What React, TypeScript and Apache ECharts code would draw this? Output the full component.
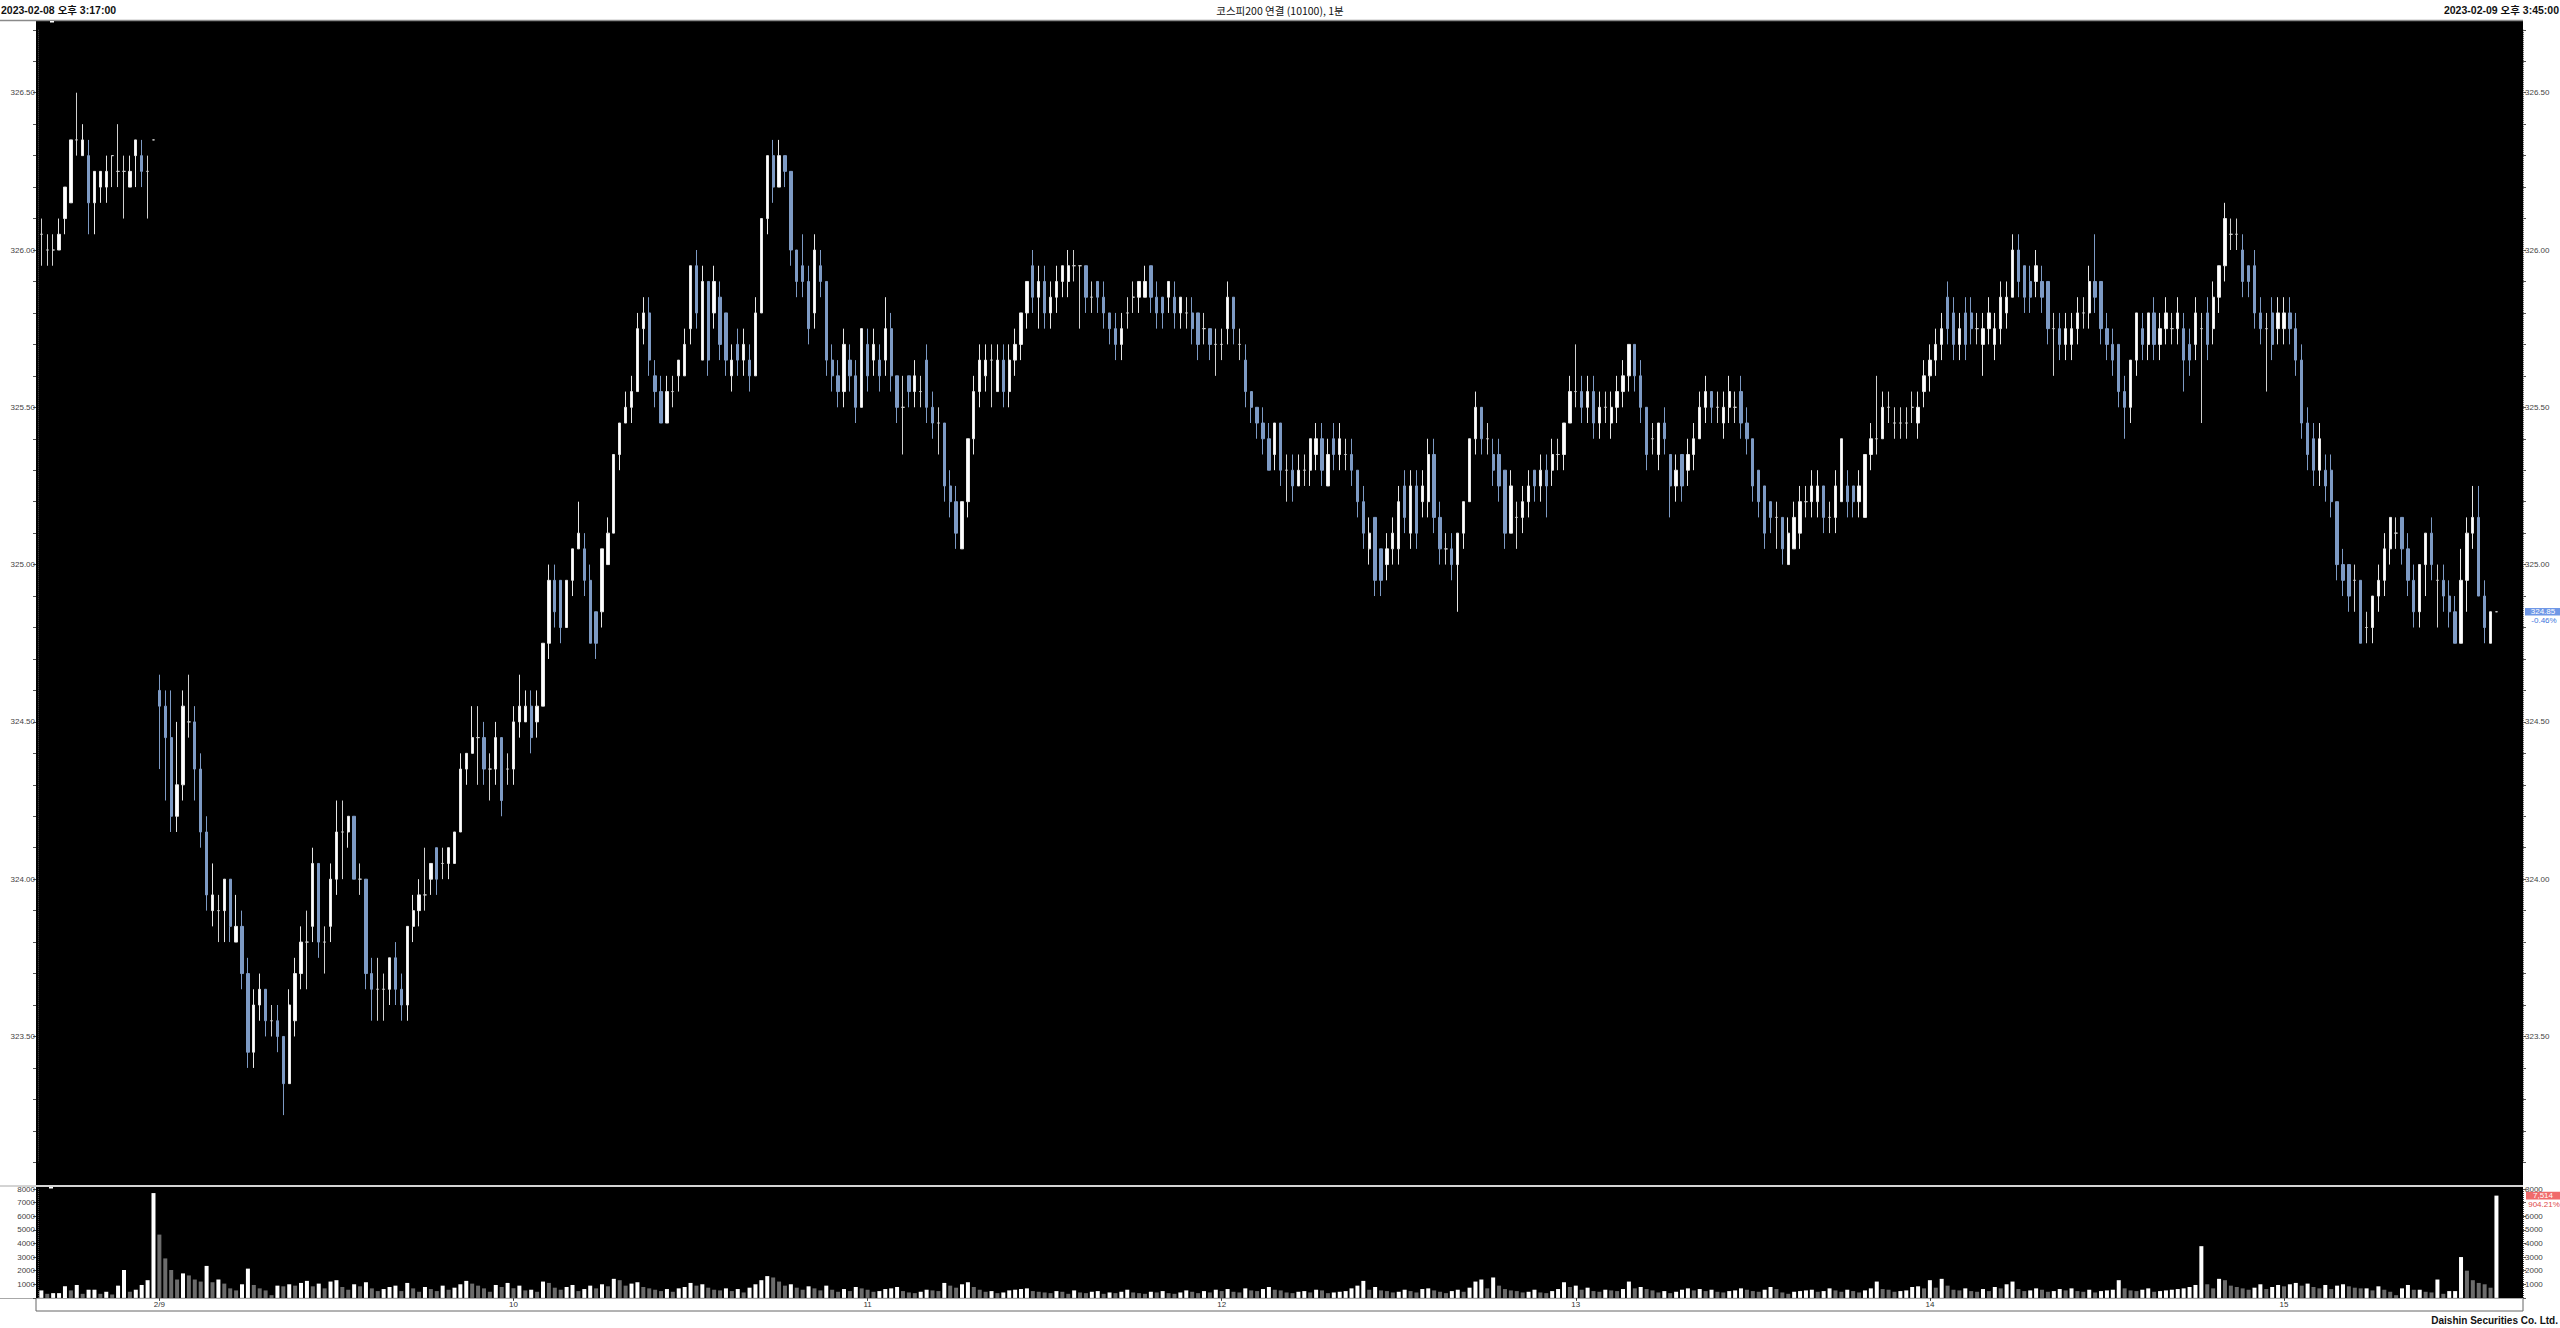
import React, { useEffect, useRef } from "react";
import * as echarts from "echarts";

// Each candle: [open, close, low, high]
const candlesFeb8Close = [
  [326.05,326.05,325.95,326.10],[326.00,326.00,325.95,326.05],[326.00,326.00,325.95,326.05],[326.00,326.05,326.00,326.10],
  [326.10,326.20,326.05,326.20],[326.15,326.35,326.15,326.35],[326.35,326.35,326.30,326.50],[326.30,326.35,326.30,326.40],
  [326.30,326.15,326.05,326.35],[326.15,326.25,326.05,326.25],[326.20,326.25,326.15,326.25],[326.20,326.25,326.15,326.30],
  [326.30,326.30,326.20,326.30],[326.25,326.25,326.20,326.40],[326.25,326.25,326.10,326.30],[326.20,326.25,326.20,326.30],
  [326.30,326.35,326.20,326.35],[326.30,326.25,326.20,326.35],[326.25,326.25,326.10,326.30],[326.35,326.35,326.35,326.35]
];
const candles09 = [
  [324.60,324.55,324.35,324.65],[324.55,324.45,324.25,324.60],[324.45,324.20,324.15,324.60],[324.20,324.30,324.15,324.50],
  [324.30,324.55,324.25,324.60],[324.50,324.50,324.45,324.65],[324.50,324.35,324.25,324.55],[324.35,324.15,324.10,324.40],
  [324.15,323.95,323.90,324.20],[323.90,323.95,323.85,324.05],[323.90,323.90,323.80,323.95],[323.90,324.00,323.80,324.00],
  [324.00,323.85,323.80,324.00],[323.80,323.85,323.80,323.95],[323.85,323.70,323.65,323.90],[323.70,323.45,323.40,323.75],
  [323.45,323.60,323.40,323.65],[323.60,323.65,323.55,323.70],[323.65,323.55,323.50,323.65],[323.55,323.55,323.50,323.60],
  [323.55,323.50,323.45,323.60],[323.50,323.35,323.25,323.50],[323.35,323.60,323.35,323.65],[323.55,323.70,323.50,323.75],
  [323.70,323.80,323.65,323.85],[323.80,323.80,323.65,323.90],[323.85,324.05,323.80,324.10],[324.05,323.80,323.75,324.05],
  [323.80,323.80,323.70,323.85],[323.85,324.00,323.80,324.05],[324.00,324.15,323.95,324.25],[324.15,324.15,324.00,324.25],
  [324.15,324.20,324.10,324.20],[324.20,324.00,324.00,324.20],[324.00,324.00,323.95,324.05],[324.00,323.70,323.65,324.00],
  [323.70,323.65,323.55,323.75],[323.65,323.65,323.55,323.75],[323.65,323.65,323.55,323.70],[323.65,323.75,323.60,323.75],
  [323.75,323.65,323.60,323.80],[323.65,323.60,323.55,323.70],[323.60,323.85,323.55,323.85],[323.85,323.90,323.80,323.95],
  [323.90,323.95,323.85,324.00],[323.95,323.95,323.90,324.10],[324.00,324.05,323.95,324.05],[324.10,324.00,323.95,324.10],
  [324.05,324.05,324.00,324.10],[324.05,324.10,324.00,324.10],[324.05,324.15,324.05,324.15],[324.15,324.35,324.15,324.40],
  [324.35,324.40,324.30,324.40],[324.40,324.45,324.40,324.55],[324.45,324.45,324.30,324.55],[324.45,324.35,324.30,324.50],
  [324.35,324.35,324.25,324.40],[324.35,324.45,324.30,324.50],[324.45,324.25,324.20,324.45],[324.35,324.35,324.30,324.40]
];
const candles10 = [
  [324.35,324.50,324.30,324.55],[324.50,324.55,324.45,324.65],[324.50,324.55,324.50,324.60],[324.55,324.45,324.40,324.60],
  [324.50,324.55,324.45,324.60],[324.55,324.75,324.55,324.75],[324.75,324.95,324.70,325.00],[324.95,324.85,324.80,325.00],
  [324.95,324.80,324.75,324.95],[324.80,324.95,324.80,324.95],[324.95,325.05,324.90,325.05],[325.05,325.10,325.05,325.20],
  [325.05,324.95,324.90,325.10],[324.95,324.75,324.75,325.00],[324.85,324.75,324.70,324.85],[324.85,325.05,324.80,325.05],
  [325.00,325.10,325.00,325.15],[325.10,325.35,325.10,325.35],[325.35,325.45,325.30,325.45],[325.45,325.50,325.45,325.55],
  [325.50,325.55,325.45,325.60],[325.55,325.75,325.55,325.80],[325.75,325.80,325.70,325.85],[325.80,325.65,325.60,325.85],
  [325.60,325.55,325.50,325.65],[325.55,325.45,325.45,325.60],[325.45,325.55,325.45,325.60],[325.55,325.55,325.50,325.60],
  [325.60,325.65,325.55,325.65],[325.60,325.70,325.60,325.75],[325.75,325.95,325.70,325.95],[325.95,325.80,325.75,326.00],
  [325.65,325.90,325.65,325.95],[325.90,325.65,325.60,325.90],[325.80,325.90,325.75,325.95],[325.85,325.70,325.65,325.90],
  [325.80,325.65,325.60,325.80],[325.60,325.65,325.55,325.70],[325.70,325.65,325.60,325.75],[325.65,325.70,325.60,325.75],
  [325.65,325.60,325.55,325.70],[325.60,325.80,325.60,325.85],[325.80,326.10,325.80,326.10],[326.10,326.30,326.05,326.30],
  [326.30,326.20,326.15,326.35],[326.20,326.30,326.20,326.35],[326.30,326.25,326.20,326.30],[326.25,326.00,325.95,326.25],
  [326.00,325.90,325.85,326.00],[325.95,325.90,325.85,326.05],[325.90,325.75,325.70,325.95],[325.80,326.00,325.75,326.05],
  [325.95,325.90,325.85,326.00],[325.90,325.65,325.60,325.90],[325.65,325.60,325.55,325.70],[325.60,325.55,325.50,325.65],
  [325.55,325.70,325.50,325.75],[325.65,325.60,325.55,325.70],[325.60,325.50,325.45,325.65],[325.50,325.75,325.50,325.75]
];
const candles11 = [
  [325.70,325.60,325.55,325.75],[325.65,325.70,325.60,325.75],[325.65,325.60,325.55,325.70],[325.65,325.75,325.60,325.85],
  [325.75,325.60,325.55,325.80],[325.60,325.50,325.45,325.60],[325.50,325.50,325.35,325.60],[325.60,325.55,325.50,325.60],
  [325.55,325.60,325.50,325.65],[325.55,325.55,325.50,325.60],[325.65,325.50,325.45,325.70],[325.50,325.45,325.40,325.55],
  [325.45,325.45,325.35,325.50],[325.45,325.25,325.20,325.45],[325.25,325.20,325.15,325.30],[325.20,325.10,325.05,325.25],
  [325.05,325.20,325.05,325.20],[325.20,325.40,325.15,325.40],[325.40,325.55,325.35,325.60],[325.55,325.65,325.50,325.70],
  [325.60,325.65,325.55,325.70],[325.65,325.65,325.50,325.70],[325.55,325.65,325.55,325.70],[325.65,325.55,325.50,325.70],
  [325.55,325.65,325.50,325.70],[325.65,325.70,325.60,325.75],[325.70,325.80,325.65,325.80],[325.80,325.90,325.75,325.90],
  [325.95,325.85,325.80,326.00],[325.85,325.90,325.75,325.95],[325.90,325.80,325.75,325.95],[325.80,325.85,325.75,325.90],
  [325.85,325.90,325.80,325.95],[325.90,325.95,325.85,325.95],[325.90,325.95,325.85,326.00],[325.95,325.95,325.90,326.00],
  [325.95,325.95,325.75,325.95],[325.95,325.85,325.80,325.95],[325.85,325.85,325.80,325.90],[325.90,325.85,325.80,325.90],
  [325.85,325.80,325.75,325.90],[325.80,325.75,325.70,325.80],[325.75,325.70,325.65,325.80],[325.70,325.75,325.65,325.80],
  [325.80,325.80,325.75,325.85],[325.85,325.85,325.80,325.90],[325.85,325.90,325.80,325.90],[325.85,325.90,325.85,325.95],
  [325.95,325.85,325.80,325.95],[325.85,325.80,325.75,325.90],[325.85,325.80,325.75,325.85],[325.85,325.90,325.80,325.90],
  [325.85,325.80,325.75,325.90],[325.80,325.85,325.75,325.85],[325.80,325.80,325.75,325.85],[325.80,325.75,325.70,325.85],
  [325.80,325.70,325.65,325.80],[325.75,325.75,325.70,325.80],[325.75,325.70,325.65,325.75],[325.70,325.70,325.60,325.75]
];
const candles12 = [
  [325.70,325.70,325.65,325.75],[325.75,325.85,325.70,325.90],[325.85,325.75,325.70,325.85],[325.70,325.70,325.65,325.75],
  [325.65,325.55,325.50,325.70],[325.55,325.50,325.45,325.55],[325.50,325.45,325.40,325.50],[325.45,325.40,325.35,325.50],
  [325.40,325.30,325.30,325.45],[325.35,325.45,325.30,325.45],[325.45,325.30,325.25,325.45],[325.30,325.30,325.20,325.35],
  [325.30,325.25,325.20,325.35],[325.25,325.30,325.25,325.35],[325.30,325.30,325.25,325.35],[325.30,325.40,325.25,325.40],
  [325.35,325.40,325.30,325.45],[325.40,325.30,325.25,325.45],[325.25,325.35,325.25,325.40],[325.40,325.35,325.30,325.45],
  [325.35,325.40,325.30,325.45],[325.35,325.35,325.30,325.40],[325.35,325.30,325.25,325.40],[325.30,325.20,325.15,325.30],
  [325.20,325.10,325.05,325.25],[325.05,325.10,325.00,325.15],[325.15,324.95,324.90,325.15],[325.05,324.95,324.90,325.05],
  [325.00,325.05,324.95,325.10],[325.05,325.10,325.00,325.15],[325.05,325.20,325.00,325.25],[325.25,325.15,325.10,325.30],
  [325.10,325.25,325.05,325.30],[325.25,325.10,325.05,325.30],[325.20,325.25,325.15,325.30],[325.20,325.35,325.15,325.40],
  [325.35,325.15,325.10,325.40],[325.15,325.05,325.00,325.20],[325.05,325.05,325.00,325.10],[325.05,325.00,324.95,325.10],
  [325.00,325.10,324.85,325.10],[325.10,325.20,325.05,325.20],[325.20,325.40,325.20,325.40],[325.40,325.50,325.35,325.55],
  [325.50,325.40,325.35,325.50],[325.40,325.40,325.35,325.45],[325.35,325.30,325.25,325.40],[325.35,325.25,325.20,325.40],
  [325.30,325.10,325.05,325.30],[325.10,325.25,325.10,325.30],[325.15,325.15,325.05,325.20],[325.15,325.20,325.10,325.25],
  [325.20,325.25,325.15,325.30],[325.30,325.25,325.20,325.30],[325.25,325.30,325.20,325.35],[325.30,325.25,325.15,325.35],
  [325.30,325.35,325.25,325.40],[325.35,325.35,325.30,325.40],[325.35,325.45,325.30,325.45],[325.45,325.55,325.45,325.60]
];
const candles13 = [
  [325.55,325.55,325.50,325.70],[325.55,325.50,325.45,325.60],[325.50,325.55,325.45,325.60],[325.55,325.45,325.40,325.60],
  [325.45,325.50,325.40,325.55],[325.50,325.50,325.45,325.55],[325.45,325.50,325.40,325.55],[325.50,325.55,325.45,325.60],
  [325.55,325.60,325.50,325.65],[325.60,325.70,325.55,325.70],[325.70,325.60,325.55,325.70],[325.60,325.50,325.45,325.65],
  [325.50,325.35,325.30,325.50],[325.40,325.40,325.35,325.45],[325.35,325.45,325.30,325.45],[325.45,325.40,325.35,325.50],
  [325.35,325.25,325.15,325.35],[325.25,325.30,325.20,325.35],[325.35,325.25,325.20,325.35],[325.30,325.35,325.25,325.40],
  [325.35,325.40,325.30,325.45],[325.40,325.50,325.40,325.55],[325.50,325.55,325.45,325.60],[325.55,325.50,325.45,325.55],
  [325.50,325.50,325.45,325.55],[325.45,325.50,325.40,325.55],[325.50,325.55,325.45,325.60],[325.50,325.50,325.45,325.55],
  [325.55,325.45,325.40,325.60],[325.45,325.40,325.35,325.50],[325.40,325.25,325.20,325.40],[325.30,325.20,325.15,325.30],
  [325.25,325.10,325.05,325.25],[325.20,325.15,325.10,325.20],[325.15,325.15,325.05,325.20],[325.15,325.05,325.00,325.15],
  [325.00,325.10,325.00,325.15],[325.05,325.15,325.05,325.20],[325.10,325.20,325.05,325.25],[325.20,325.20,325.15,325.25],
  [325.20,325.25,325.15,325.30],[325.20,325.25,325.15,325.30],[325.25,325.15,325.10,325.25],[325.15,325.15,325.10,325.20],
  [325.15,325.25,325.10,325.30],[325.20,325.40,325.20,325.40],[325.25,325.20,325.15,325.30],[325.25,325.20,325.15,325.25],
  [325.20,325.25,325.15,325.30],[325.15,325.35,325.15,325.35],[325.35,325.40,325.30,325.45],[325.40,325.40,325.35,325.60],
  [325.40,325.50,325.40,325.55],[325.50,325.50,325.45,325.55],[325.45,325.45,325.40,325.50],[325.45,325.45,325.40,325.50],
  [325.45,325.45,325.40,325.50],[325.50,325.50,325.45,325.55],[325.45,325.50,325.40,325.55],[325.55,325.60,325.50,325.65]
];
const candles14 = [
  [325.60,325.65,325.55,325.70],[325.65,325.70,325.60,325.75],[325.70,325.75,325.65,325.80],[325.85,325.75,325.70,325.90],
  [325.80,325.70,325.65,325.85],[325.70,325.75,325.65,325.80],[325.80,325.70,325.65,325.85],[325.80,325.75,325.70,325.85],
  [325.75,325.75,325.70,325.80],[325.70,325.75,325.60,325.80],[325.75,325.80,325.70,325.85],[325.70,325.75,325.65,325.80],
  [325.75,325.85,325.70,325.90],[325.80,325.85,325.75,325.90],[325.85,326.00,325.85,326.05],[326.00,325.90,325.85,326.05],
  [325.95,325.85,325.80,325.95],[325.90,325.85,325.80,325.95],[325.90,325.95,325.85,326.00],[325.90,325.85,325.80,325.95],
  [325.90,325.75,325.70,325.90],[325.75,325.75,325.60,325.80],[325.75,325.70,325.65,325.80],[325.70,325.75,325.65,325.80],
  [325.70,325.75,325.65,325.80],[325.75,325.80,325.70,325.85],[325.80,325.80,325.75,325.85],[325.80,325.90,325.75,325.95],
  [325.90,325.85,325.80,326.05],[325.90,325.75,325.70,325.90],[325.75,325.70,325.65,325.80],[325.70,325.65,325.60,325.75],
  [325.70,325.55,325.50,325.70],[325.55,325.50,325.40,325.60],[325.50,325.65,325.45,325.65],[325.65,325.80,325.60,325.80],
  [325.75,325.70,325.65,325.80],[325.70,325.80,325.65,325.80],[325.80,325.70,325.65,325.85],[325.70,325.75,325.65,325.80],
  [325.75,325.80,325.70,325.85],[325.75,325.75,325.70,325.80],[325.75,325.80,325.70,325.85],[325.75,325.65,325.55,325.80],
  [325.70,325.65,325.60,325.75],[325.70,325.80,325.65,325.85],[325.75,325.75,325.45,325.80],[325.80,325.70,325.65,325.85],
  [325.75,325.85,325.70,325.90],[325.85,325.95,325.80,325.95],[325.95,326.10,325.90,326.15],[326.05,326.05,326.00,326.10],
  [326.05,326.05,326.00,326.10],[326.00,325.90,325.85,326.05],[325.95,325.90,325.85,325.95],[325.95,325.80,325.75,326.00],
  [325.80,325.75,325.70,325.85],[325.75,325.75,325.55,325.80],[325.80,325.70,325.65,325.85],[325.75,325.80,325.70,325.85]
];
const candles15 = [
  [325.75,325.80,325.70,325.85],[325.80,325.75,325.70,325.85],[325.75,325.65,325.60,325.80],[325.65,325.45,325.40,325.70],
  [325.45,325.35,325.30,325.50],[325.40,325.30,325.25,325.45],[325.30,325.40,325.25,325.45],[325.30,325.25,325.20,325.35],
  [325.30,325.20,325.15,325.35],[325.20,325.00,324.95,325.20],[325.00,324.95,324.90,325.05],[325.00,324.90,324.85,325.00],
  [324.95,324.95,324.85,325.00],[324.95,324.75,324.75,324.95],[324.80,324.80,324.75,324.85],[324.80,324.90,324.75,324.90],
  [324.90,324.95,324.85,325.00],[324.95,325.05,324.90,325.10],[325.05,325.15,325.00,325.15],[325.10,325.10,325.05,325.15],
  [325.15,325.05,325.00,325.15],[325.05,324.95,324.90,325.10],[324.95,324.85,324.80,325.00],[324.85,325.00,324.80,325.00],
  [325.00,325.10,324.90,325.10],[325.10,325.00,324.95,325.15],[324.95,324.95,324.80,325.00],[324.95,324.90,324.85,325.00],
  [324.90,324.85,324.80,324.95],[324.85,324.75,324.75,324.90],[324.75,324.95,324.75,325.05],[324.95,325.10,324.85,325.15],
  [325.10,325.15,325.05,325.25],[325.15,324.90,324.90,325.25],[324.90,324.80,324.75,324.95],[324.75,324.85,324.75,324.85],
  [324.85,324.85,324.85,324.85]
];

const volumeFeb8Close = [550,300,350,350,850,550,950,300,600,600,300,450,250,900,2050,450,600,950,1300,7700];
const volume09 = [4650,2900,2050,1350,1800,1650,1350,1200,2350,1150,1350,1050,700,550,1000,2150,950,700,550,200,900,850,1000,900,1100,
  1250,850,1050,700,1200,1300,800,600,1000,850,1150,700,500,650,800,900,500,1100,700,450,800,650,500,900,600,750,1000,1250,1050,900,700,450,950,800,1100];
const volume10 = [700,900,550,600,450,1200,1100,750,600,800,950,500,650,900,700,1000,850,1400,1300,900,
  1050,1150,800,700,600,500,650,450,700,800,1100,900,1000,750,600,550,700,500,650,400,
  750,1000,1300,1600,1500,1200,900,1000,750,600,850,700,550,900,600,450,650,500,800,700];
const volume11 = [600,450,500,650,700,800,500,400,350,450,600,550,500,1100,900,750,1000,1150,800,600,
  450,500,350,400,550,600,650,700,500,450,400,350,500,450,300,550,400,350,450,500,
  300,400,350,450,600,400,350,300,450,400,500,350,300,400,550,450,350,500,400,600];
const volume12 = [500,650,450,400,700,550,500,650,800,600,550,400,350,450,500,400,600,550,350,400,
  450,500,700,900,1250,600,800,550,500,400,450,600,500,400,650,700,550,450,350,500,
  600,450,750,1200,1350,700,1500,900,650,550,500,400,450,600,400,350,500,650,1150,800];
const volume13 = [900,600,750,500,450,600,550,500,650,1200,700,800,650,550,400,500,350,450,600,700,
  550,650,500,600,450,400,500,550,700,600,500,450,600,800,650,400,300,450,500,550,
  600,450,500,700,550,450,600,500,400,550,700,1200,650,600,450,500,550,800,850,700];
const volume14 = [1300,750,1400,900,600,550,700,500,450,650,500,800,700,1000,1200,650,500,550,700,600,
  450,500,650,550,700,500,450,600,400,500,550,600,1300,700,550,500,600,700,450,500,
  550,600,650,700,800,950,3800,1000,700,1400,1300,900,800,700,600,750,1000,650,800,950];
const volume15 = [850,1000,1100,900,1050,800,700,950,650,900,1000,
  850,750,700,700,550,850,600,450,200,700,950,600,600,450,400,1350,300,500,500,3000,2000,1300,1100,1000,748,
  7514];

const headerLeft = "2023-02-08 오후 3:17:00";
const headerCenter = "코스피200 연결 (10100), 1분";
const headerRight = "2023-02-09 오후 3:45:00";
const footerText = "Daishin Securities Co. Ltd.";
const previousClose = 326.35;
const volumeChangeText = "904.21%";
const hourLabelText: Record<string, string> = {
  "02/09 09:00": "2/9", "02/09 10:00": "10", "02/09 11:00": "11", "02/09 12:00": "12",
  "02/09 13:00": "13", "02/09 14:00": "14", "02/09 15:00": "15"
};

const candles = [
  ...candlesFeb8Close, ...candles09, ...candles10, ...candles11, ...candles12, ...candles13, ...candles14, ...candles15
];
const volumes = [
  ...volumeFeb8Close, ...volume09, ...volume10, ...volume11, ...volume12, ...volume13, ...volume14, ...volume15
];

const pad = (n: number) => String(n).padStart(2, "0");
const categories: string[] = [];
for (let m = 17; m <= 35; m++) categories.push(`02/08 15:${pad(m)}`);
categories.push("02/08 15:45");
for (let h = 9; h <= 15; h++) {
  for (let m = 0; m < 60; m++) {
    if (h === 15 && m > 35) break;
    categories.push(`02/09 ${pad(h)}:${pad(m)}`);
  }
}
categories.push("02/09 15:45");
for (let k = 1; k <= 4; k++) categories.push(`pad${k}`);

const sessionStart = categories.indexOf("02/09 09:00");

const FONT_AXIS = "'Liberation Sans', Arial, sans-serif";
const FONT_HEAD = "'Liberation Sans Narrow', 'Liberation Sans', 'Noto Sans CJK KR', sans-serif";
const FONT_TITLE = "'Noto Sans CJK KR', 'Liberation Sans', sans-serif";

export default function App() {
  const ref = useRef<HTMLDivElement>(null);
  useEffect(() => {
    if (!ref.current) return;
    const chart = echarts.init(ref.current, null, { renderer: "svg" });

    const priceLabel = (v: number) => {
      const r = Math.round(v * 100);
      return r % 50 === 0 ? (r / 100).toFixed(2) : "";
    };
    const axisLabelStyle = { fontSize: 8, color: "#444", fontFamily: FONT_AXIS };
    const tickStyle = { show: true, length: 3, lineStyle: { color: "#555", width: 1 } };

    const gridLeft = 38.4;
    const gridWidth = 2484.6;

    const option: any = {
      animation: false,
      backgroundColor: "#ffffff",
      grid: [
        { left: gridLeft, top: 29.8, width: gridWidth, height: 1132.5 },
        { left: gridLeft, top: 1189, width: gridWidth, height: 108.9 }
      ],
      xAxis: [
        {
          type: "category", gridIndex: 0, data: categories, boundaryGap: true,
          axisLine: { show: false }, axisTick: { show: false }, axisLabel: { show: false },
          splitLine: { show: true, interval: (i: number) => i === sessionStart, lineStyle: { color: "#4a4a4a", type: "dotted", width: 1 } }
        },
        {
          type: "category", gridIndex: 1, data: categories, boundaryGap: true,
          axisLine: { show: true, lineStyle: { color: "#a8a8a8", width: 1 } },
          axisTick: { show: true, alignWithLabel: true, length: 3, interval: (i: number, v: string) => !!hourLabelText[v], lineStyle: { color: "#444" } },
          axisLabel: {
            show: true, interval: (i: number, v: string) => !!hourLabelText[v],
            formatter: (v: string) => hourLabelText[v] || "", fontSize: 8, color: "#333", fontFamily: FONT_AXIS, margin: 3
          },
          splitLine: { show: true, interval: (i: number) => i === sessionStart, lineStyle: { color: "#4a4a4a", type: "dotted", width: 1 } }
        }
      ],
      yAxis: [
        {
          type: "value", gridIndex: 0, position: "left", min: 323.1, max: 326.7, interval: 0.1, offset: 2.4,
          axisLine: { show: false }, axisTick: tickStyle, splitLine: { show: false },
          axisLabel: { ...axisLabelStyle, margin: 1, formatter: priceLabel }
        },
        {
          type: "value", gridIndex: 0, position: "right", min: 323.1, max: 326.7, interval: 0.1,
          axisLine: { show: false }, axisTick: tickStyle, splitLine: { show: false },
          axisLabel: { ...axisLabelStyle, margin: 2, formatter: priceLabel }
        },
        {
          type: "value", gridIndex: 1, position: "left", min: 0, max: 8000, interval: 1000, offset: 2.4,
          axisLine: { show: false }, axisTick: tickStyle, splitLine: { show: false },
          axisLabel: { ...axisLabelStyle, margin: 1, formatter: (v: number) => (v === 0 ? "" : String(v)) }
        },
        {
          type: "value", gridIndex: 1, position: "right", min: 0, max: 8000, interval: 1000,
          axisLine: { show: false }, axisTick: tickStyle, splitLine: { show: false },
          axisLabel: { ...axisLabelStyle, margin: 2, formatter: (v: number) => (v === 0 || v === 7000 ? "" : String(v)) }
        }
      ],
      series: [
        {
          type: "candlestick", xAxisIndex: 0, yAxisIndex: 0, data: candles, barWidth: 2.8,
          itemStyle: {
            color: "#ffffff", color0: "#7d9ac4", borderColor: "#e6e6e6", borderColor0: "#7d9ac4",
            borderColorDoji: "#cfcfcf", borderWidth: 1
          }
        },
        {
          type: "bar", xAxisIndex: 1, yAxisIndex: 2, barWidth: 4,
          data: volumes.map((v, i) => ({
            value: v,
            itemStyle: { color: i === 0 || v >= volumes[i - 1] ? "#ffffff" : "#6c6c6c" }
          }))
        }
      ]
    };
    chart.setOption(option);

    const last = candles.length - 1;
    const lastClose = candles[last][1];
    const lastVolume = volumes[last];
    const yPrice = chart.convertToPixel({ yAxisIndex: 1 }, lastClose) as number;
    const yVol = chart.convertToPixel({ yAxisIndex: 3 }, lastVolume) as number;
    const pct = ((lastClose - previousClose) / previousClose) * 100;

    const line = (x1: number, y1: number, x2: number, y2: number, color: string, w = 1) => ({
      type: "line", silent: true, shape: { x1, y1, x2, y2 }, style: { stroke: color, lineWidth: w }
    });
    const text = (x: number, y: number, t: string, opts: any) => ({
      type: "text", silent: true, x, y, z: 50,
      style: { text: t, align: "left", verticalAlign: "middle", fontSize: 10, fontFamily: FONT_HEAD, fill: "#111", ...opts }
    });

    chart.setOption({
      graphic: [
        { type: "rect", id: "bgPrice", z: -100, silent: true, shape: { x: 36, y: 21, width: 2487, height: 1164 }, style: { fill: "#000000" } },
        { type: "rect", id: "bgVol", z: -100, silent: true, shape: { x: 36, y: 1187, width: 2487, height: 111 }, style: { fill: "#000000" } },
        { ...line(0, 20.5, 2523, 20.5, "#8a8a8a", 1.5), id: "lTop" },
        { ...line(0, 1186, 2523, 1186, "#a8a8a8", 1), id: "lMid" },
        { ...line(0, 1298.5, 2523, 1298.5, "#a8a8a8", 1), id: "lBot" },
        { ...line(36, 1311, 2523, 1311, "#666666", 1), id: "lAx" },
        { ...line(36, 1298, 36, 1311, "#666666", 1), id: "lAxL" },
        { ...line(2523, 1298, 2523, 1311, "#666666", 1), id: "lAxR" },
        { type: "rect", id: "mk1", silent: true, shape: { x: 50, y: 21, width: 4, height: 1.5 }, style: { fill: "#ffffff" } },
        { type: "rect", id: "mk2", silent: true, shape: { x: 49, y: 1187, width: 4, height: 1.5 }, style: { fill: "#ffffff" } },
        { ...text(1, 10, headerLeft, { fontWeight: "bold", fontSize: 10.5 }), id: "hL" },
        { ...text(1280, 10, headerCenter, { align: "center", fontFamily: FONT_TITLE, fontSize: 10.5 }), id: "hC" },
        { ...text(2559, 10, headerRight, { align: "right", fontWeight: "bold", fontSize: 10.5 }), id: "hR" },
        { ...text(2558, 1320, footerText, { align: "right", fontWeight: "bold", fontSize: 10 }), id: "ft" },
        { type: "rect", id: "pBox", z: 40, silent: true, shape: { x: 2525, y: yPrice - 3.8, width: 35, height: 7.6 }, style: { fill: "#6f97e6" } },
        { ...text(2543, yPrice, lastClose.toFixed(2), { align: "center", fill: "#ffffff", fontSize: 8, fontFamily: FONT_AXIS }), id: "pTxt" },
        { ...text(2544, yPrice + 9, `${pct.toFixed(2)}%`, { align: "center", fill: "#3d76dc", fontSize: 8, fontFamily: FONT_AXIS }), id: "pPct" },
        { type: "rect", id: "vBox", z: 40, silent: true, shape: { x: 2526, y: yVol - 3.8, width: 34, height: 7.6 }, style: { fill: "#f06b6b" } },
        { ...text(2543, yVol, lastVolume.toLocaleString("en-US"), { align: "center", fill: "#ffffff", fontSize: 8, fontFamily: FONT_AXIS }), id: "vTxt" },
        { ...text(2544, yVol + 9, volumeChangeText, { align: "center", fill: "#e04a4a", fontSize: 8, fontFamily: FONT_AXIS }), id: "vPct" }
      ]
    });

    return () => chart.dispose();
  }, []);

  return <div ref={ref} style={{ position: "fixed", left: 0, top: 0, width: 2560, height: 1328 }} />;
}
